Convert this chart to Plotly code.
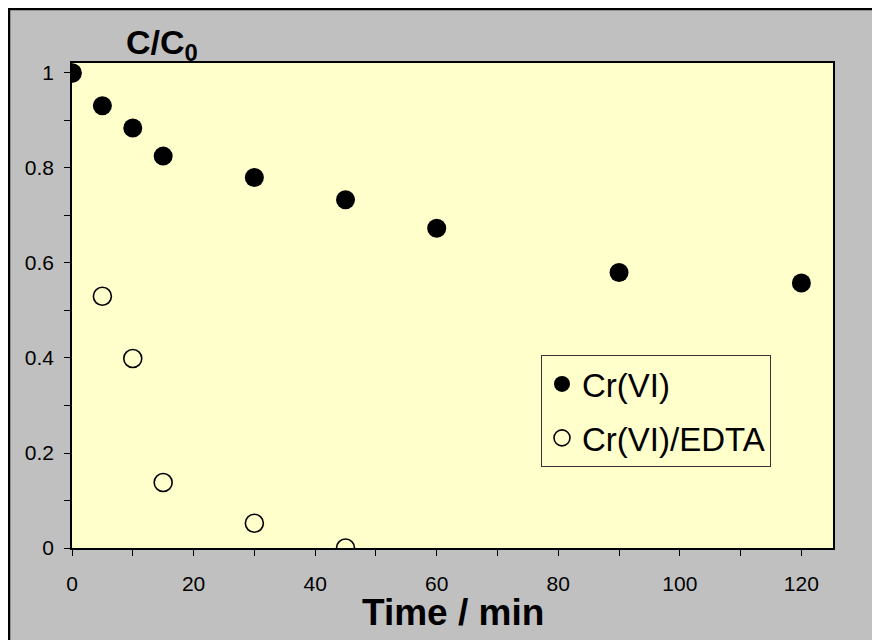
import plotly.graph_objects as go

time_cr = [0, 5, 10, 15, 30, 45, 60, 90, 120]
c_cr = [1.0, 0.931, 0.884, 0.825, 0.780, 0.733, 0.673, 0.580, 0.558]

time_edta = [0, 5, 10, 15, 30, 45]
c_edta = [1.0, 0.530, 0.399, 0.138, 0.052, 0.0]

x_ticks = [0, 20, 40, 60, 80, 100, 120]
y_ticks = [0, 0.2, 0.4, 0.6, 0.8, 1]
y_tick_labels = ["0", "0.2", "0.4", "0.6", "0.8", "1"]

FONT = "Liberation Sans, Arial, sans-serif"
GRAY = "#c0c0c0"
PALE = "#ffffcc"

fig = go.Figure()
fig.add_trace(go.Scatter(
    x=time_edta, y=c_edta, mode="markers", name="Cr(VI)/EDTA",
    legendrank=2, legendgroup="b",
    marker=dict(symbol="circle-open", size=18, color="black", line=dict(width=1.6, color="black")),
))
fig.add_trace(go.Scatter(
    x=time_cr, y=c_cr, mode="markers", name="Cr(VI)",
    legendrank=1, legendgroup="a",
    marker=dict(symbol="circle", size=19, color="black"),
))

OFF = 8  # page offset of the figure inside the browser window
W, H = 880, 640
# target plot area in page pixels: x 72..833, y 63..548
L = 72 - OFF
T = 63 - OFF
R = W - (833 - OFF)
B = H - (548 - OFF)
pw, ph = W - L - R, H - T - B

def px_x(p):
    return (p - OFF - L) / pw

def px_y(p):
    return (H - B - (p - OFF)) / ph

fig.update_layout(
    width=W, height=H,
    margin=dict(l=L, r=R, t=T, b=B, autoexpand=False),
    paper_bgcolor=GRAY,
    plot_bgcolor=PALE,
    font=dict(family=FONT, color="black", size=21),
    showlegend=True,
    legend=dict(
        x=px_x(541), y=px_y(355), xanchor="left", yanchor="top",
        bgcolor=PALE, bordercolor="#333333", borderwidth=1,
        font=dict(size=33, family=FONT, color="black"),
        itemsizing="trace", tracegroupgap=8, traceorder="grouped",
    ),
    shapes=[
        dict(type="rect", xref="paper", yref="paper", layer="below",
             x0=px_x(OFF + 1), x1=px_x(W + 60), y0=px_y(OFF + 1), y1=px_y(H + 60),
             fillcolor=GRAY, line=dict(color="black", width=2.5)),
        dict(type="rect", xref="paper", yref="paper", layer="below",
             x0=0, x1=1, y0=0, y1=1, fillcolor=PALE, line=dict(width=0)),
    ],
    annotations=[
        dict(text="<b>C/C<sub>0</sub></b>", xref="paper", yref="paper",
             x=px_x(124), y=px_y(45), xanchor="left", yanchor="middle",
             showarrow=False, font=dict(size=34, family=FONT, color="black")),
        dict(text="<b>Time / min</b>", xref="paper", yref="paper",
             x=0.5, y=px_y(612), xanchor="center", yanchor="middle",
             showarrow=False, font=dict(size=37, family=FONT, color="black")),
    ],
)

fig.update_xaxes(
    range=[0, 125.2], tickvals=x_ticks, ticks="outside", ticklen=6, tickwidth=1.2,
    tickcolor="black", showline=True, linecolor="black", linewidth=1.5, mirror=True,
    showgrid=False, zeroline=False, tickfont=dict(size=21),
    minor=dict(tickvals=[10, 30, 50, 70, 90, 110], ticks="outside", ticklen=6, tickcolor="black", tickwidth=1.2),
    ticklabelstandoff=10,
)
fig.update_yaxes(
    range=[0, 1.021], tickvals=y_ticks, ticktext=y_tick_labels, ticks="outside", ticklen=6,
    tickwidth=1.2, tickcolor="black", showline=True, linecolor="black", linewidth=1.5, mirror=True,
    showgrid=False, zeroline=False, tickfont=dict(size=21),
    minor=dict(tickvals=[0.1, 0.3, 0.5, 0.7, 0.9], ticks="outside", ticklen=6, tickcolor="black", tickwidth=1.2),
    ticklabelstandoff=6,
)

fig.write_html("out.html")
